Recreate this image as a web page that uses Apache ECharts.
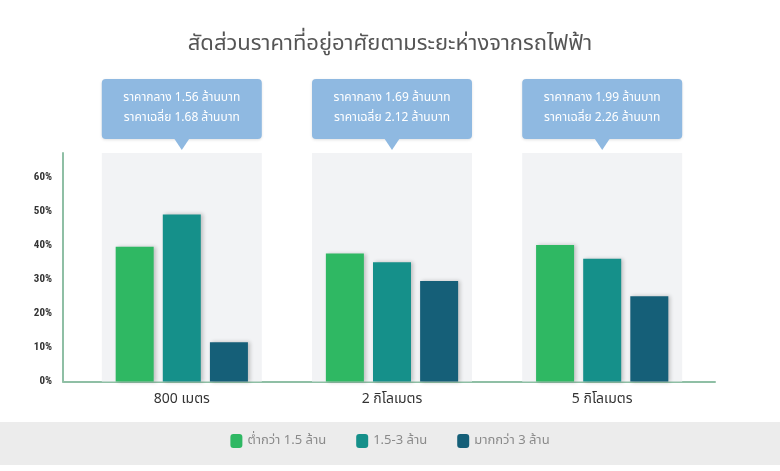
<!DOCTYPE html>
<html>
<head>
<meta charset="utf-8">
<script src="https://cdn.jsdelivr.net/npm/echarts@6/dist/echarts.min.js"></script>
<style>html,body{margin:0;padding:0;background:#fff}#c{width:780px;height:471px}</style>
</head>
<body>
<div id="c"></div>
<script>
var titleText = 'สัดส่วนราคาที่อยู่อาศัยตามระยะห่างจากรถไฟฟ้า';
var categories = ['800 เมตร', '2 กิโลเมตร', '5 กิโลเมตร'];
var seriesNames = ['ต่ำกว่า 1.5 ล้าน', '1.5-3 ล้าน', 'มากกว่า 3 ล้าน'];
var below15 = [39.5, 37.5, 40];
var from15to3 = [49, 35, 36];
var above3 = [11.5, 29.5, 25];
var medianPrice = [1.56, 1.69, 1.99];
var averagePrice = [1.68, 2.12, 2.26];
var yTicks = [0, 10, 20, 30, 40, 50, 60];

var FONT = '"Noto Sans Thai", "Noto Sans", Roboto, sans-serif';
var Y_MAX = 67;
var colors = ['#2fb863', '#15908a', '#155f78'];

var chart = echarts.init(document.getElementById('c'));
var gridTop = 153, gridBottom = 89.5;

var barStyle = function (c) {
  return { color: c, shadowBlur: 4, shadowOffsetX: 2, shadowOffsetY: 0, shadowColor: 'rgba(0,0,0,0.22)' };
};

chart.setOption({
  backgroundColor: '#ffffff',
  title: {
    text: titleText, left: 'center', top: 30,
    textStyle: { fontFamily: FONT, fontSize: 22, fontWeight: 'normal', color: '#555555' }
  },
  graphic: [{
    type: 'rect', left: 0, top: 422, z: -10,
    shape: { width: 780, height: 43 }, style: { fill: '#ececec' }
  }],
  legend: {
    data: seriesNames, bottom: 18, left: 'center',
    itemWidth: 12, itemHeight: 14, itemGap: 30,
    textStyle: { fontFamily: FONT, fontSize: 13, color: '#8a8a8a' }
  },
  grid: [
    { left: 63, right: 65, top: gridTop, bottom: gridBottom },
    { left: 76.7, right: 72.7, top: gridTop, bottom: gridBottom }
  ],
  xAxis: [
    { type: 'value', gridIndex: 0, min: 0, max: 1, axisLine: { show: true, onZero: false, lineStyle: { color: '#8fbfa5', width: 2 } },
      axisLabel: { show: false }, axisTick: { show: false }, splitLine: { show: false } },
    { type: 'category', gridIndex: 1, data: categories, axisLine: { show: false }, axisTick: { show: false },
      axisLabel: { margin: 12, fontFamily: FONT, fontSize: 14, color: '#333333' } },
    { type: 'category', gridIndex: 1, data: categories, show: false }
  ],
  yAxis: [
    { type: 'value', gridIndex: 0, min: 0, max: Y_MAX, interval: 10,
      axisLine: { show: true, lineStyle: { color: '#8fbfa5', width: 2 } },
      axisTick: { show: false }, splitLine: { show: false },
      axisLabel: { margin: 11, showMaxLabel: false, fontFamily: '"Roboto Condensed", "Liberation Sans Narrow", Roboto, sans-serif',
        fontSize: 11, fontWeight: 'bold', color: '#333333',
        formatter: function (v) { return yTicks.indexOf(v) >= 0 ? v + '%' : ''; } } },
    { type: 'value', gridIndex: 1, min: 0, max: Y_MAX, show: false },
    { type: 'value', gridIndex: 1, min: 0, max: Y_MAX, show: false }
  ],
  series: [
    { type: 'bar', xAxisIndex: 2, yAxisIndex: 2, barWidth: 160, silent: true, z: 1,
      data: categories.map(function () { return Y_MAX; }), itemStyle: { color: '#f2f3f5' } },
    { name: seriesNames[0], type: 'bar', xAxisIndex: 1, yAxisIndex: 1, barWidth: 38, barGap: '24%', z: 3,
      data: below15, itemStyle: barStyle(colors[0]) },
    { name: seriesNames[1], type: 'bar', xAxisIndex: 1, yAxisIndex: 1, barWidth: 38, barGap: '24%', z: 3,
      data: from15to3, itemStyle: barStyle(colors[1]) },
    { name: seriesNames[2], type: 'bar', xAxisIndex: 1, yAxisIndex: 1, barWidth: 38, barGap: '24%', z: 3,
      data: above3, itemStyle: barStyle(colors[2]) },
    { type: 'custom', xAxisIndex: 2, yAxisIndex: 2, clip: false, silent: true, z: 5,
      data: categories.map(function (c, i) { return [i, Y_MAX]; }),
      renderItem: function (params, api) {
        var i = api.value(0);
        var p = api.coord([i, api.value(1)]);
        var cx = p[0], top = p[1];
        var w = 160, h = 60;
        var by = top - 74;
        return {
          type: 'group',
          children: [
            { type: 'rect', shape: { x: cx - w / 2, y: by, width: w, height: h, r: 4 },
              style: { fill: '#8fb9e1', shadowBlur: 3, shadowColor: 'rgba(0,0,0,0.12)', shadowOffsetY: 1 } },
            { type: 'polygon', shape: { points: [[cx - 8, by + h - 1], [cx + 8, by + h - 1], [cx, by + h + 11]] },
              style: { fill: '#8fb9e1' } },
            { type: 'text', style: { x: cx, y: by + 20, text: 'ราคากลาง ' + medianPrice[i].toFixed(2) + ' ล้านบาท',
              align: 'center', verticalAlign: 'middle', fill: '#ffffff', font: '12px ' + FONT } },
            { type: 'text', style: { x: cx, y: by + 40, text: 'ราคาเฉลี่ย ' + averagePrice[i].toFixed(2) + ' ล้านบาท',
              align: 'center', verticalAlign: 'middle', fill: '#ffffff', font: '12px ' + FONT } }
          ]
        };
      }
    }
  ]
});
</script>
</body>
</html>
